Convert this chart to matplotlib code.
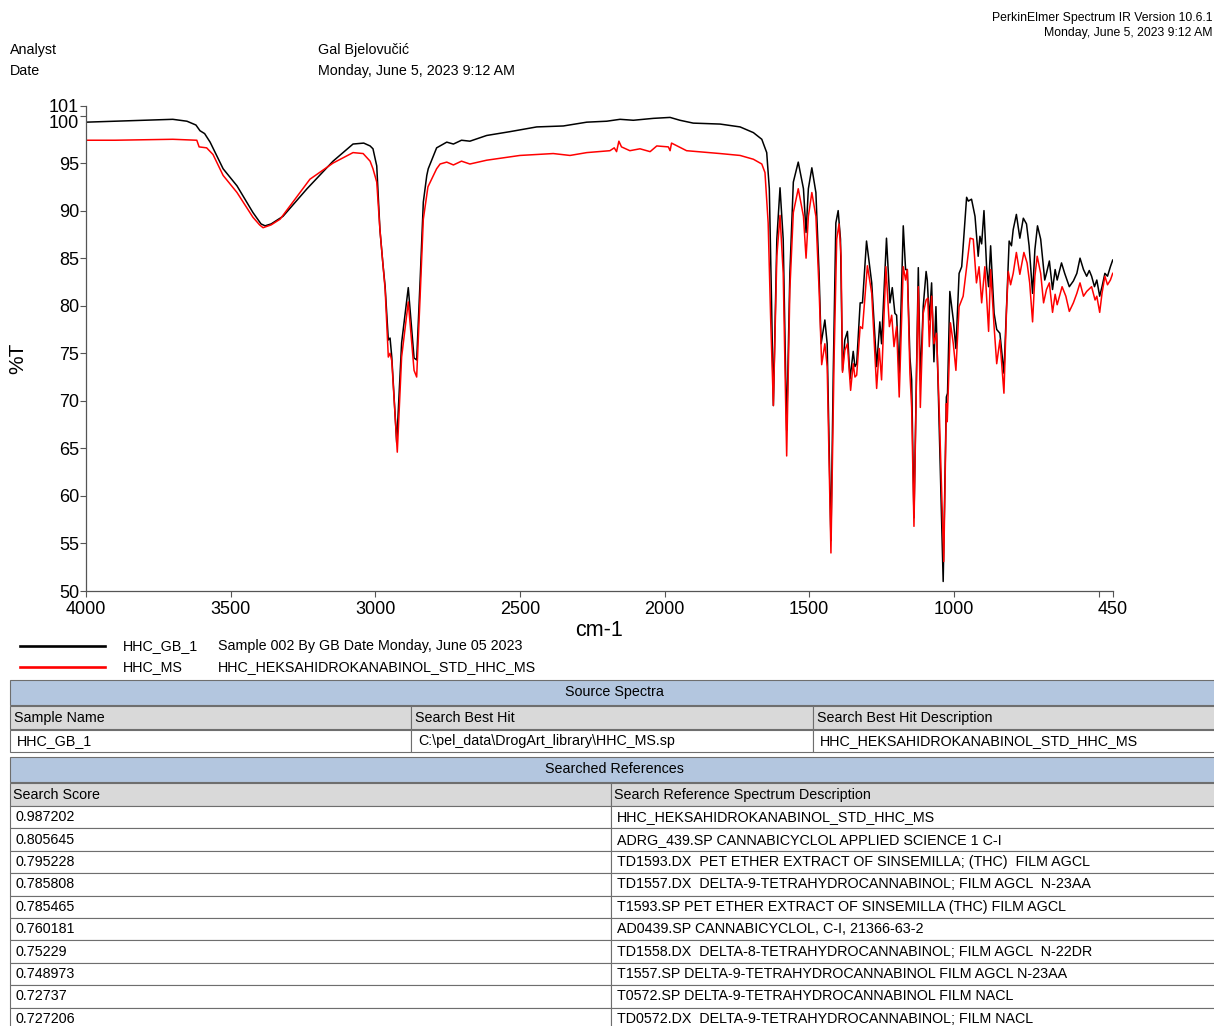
import matplotlib
matplotlib.use('Agg')
import matplotlib.pyplot as plt
import matplotlib.transforms as mtransforms
from matplotlib.patches import Rectangle

plt.rcParams['font.family'] = ['Liberation Sans', 'DejaVu Sans']

W, H = 1214, 1026

# sample spectrum HHC_GB_1 (wavenumber, %T)
wn_gb = [4000, 3900, 3800, 3700, 3651, 3620, 3606, 3590, 3571, 3526, 3478, 3423,
         3395, 3381, 3360, 3319, 3236, 3146, 3100, 3077, 3040, 3018, 3008, 2995,
         2984, 2974, 2966, 2955, 2949, 2943, 2926, 2909, 2886, 2874, 2866, 2857,
         2845, 2834, 2822, 2817, 2788, 2753, 2730, 2702, 2673, 2615, 2535, 2442,
         2350, 2269, 2200, 2154, 2108, 2039, 1981, 1947, 1901, 1808, 1739, 1693,
         1664, 1647, 1638, 1630, 1624, 1612, 1601, 1590, 1578, 1567, 1555, 1538,
         1520, 1511, 1503, 1491, 1477, 1466, 1459, 1446, 1438, 1425, 1417, 1408,
         1400, 1392, 1385, 1377, 1368, 1359, 1348, 1342, 1336, 1324, 1316, 1302,
         1284, 1267, 1256, 1250, 1233, 1221, 1213, 1204, 1198, 1189, 1175, 1167,
         1161, 1152, 1146, 1138, 1129, 1123, 1116, 1106, 1096, 1092, 1085, 1077,
         1069, 1062, 1054, 1037, 1026, 1022, 1014, 1002, 993, 982, 973, 956,
         950, 939, 927, 916, 910, 904, 896, 887, 880, 873, 861, 852,
         841, 827, 818, 809, 801, 795, 784, 772, 760, 749, 740, 728,
         720, 711, 700, 686, 680, 670, 659, 650, 643, 628, 617, 601,
         587, 575, 564, 552, 541, 532, 524, 514, 506, 496, 488, 478,
         469, 459, 451]
t_gb = [99.3, 99.4, 99.5, 99.6, 99.4, 99.0, 98.4, 98.1, 97.2, 94.4, 92.6, 89.8,
        88.6, 88.4, 88.6, 89.4, 92.3, 95.2, 96.4, 97.0, 97.1, 96.8, 96.5, 94.7,
        88.0, 84.5, 82.0, 76.4, 76.6, 74.6, 65.6, 76.1, 81.9, 77.5, 74.5, 74.3,
        82.7, 90.9, 93.7, 94.4, 96.6, 97.2, 97.0, 97.4, 97.3, 97.9, 98.3, 98.8,
        98.9, 99.3, 99.4, 99.6, 99.5, 99.7, 99.8, 99.5, 99.2, 99.1, 98.8, 98.2,
        97.5, 96.1, 92.3, 79.9, 69.5, 87.0, 92.4, 87.0, 66.9, 83.4, 93.0, 95.1,
        92.3, 87.7, 92.3, 94.5, 91.9, 83.4, 76.0, 78.5, 76.0, 55.3, 72.9, 88.7,
        90.0, 87.0, 73.2, 76.4, 77.3, 72.3, 75.2, 73.6, 73.9, 80.3, 80.3, 86.8,
        82.4, 73.6, 78.3, 76.0, 87.1, 80.3, 81.9, 79.2, 79.0, 72.9, 88.4, 83.8,
        83.8, 74.6, 72.2, 57.7, 73.6, 84.0, 72.2, 79.9, 83.6, 82.7, 78.5, 82.4,
        74.1, 79.9, 71.1, 51.0, 70.4, 70.8, 81.5, 78.5, 75.5, 83.4, 84.1, 91.4,
        91.0, 91.2, 89.4, 85.2, 87.3, 86.5, 90.0, 84.1, 82.0, 86.3, 79.2, 77.5,
        77.1, 72.9, 79.9, 86.8, 86.3, 88.0, 89.6, 87.1, 89.2, 88.6, 86.3, 81.3,
        85.9, 88.4, 87.0, 82.7, 83.4, 84.7, 81.7, 83.8, 82.7, 84.5, 83.4, 82.0,
        82.6, 83.4, 85.0, 83.8, 83.1, 83.7, 83.1, 82.0, 82.7, 81.0, 82.0, 83.4,
        83.1, 84.1, 84.8]

# library spectrum HHC_MS (wavenumber, %T)
wn_ms = [4000, 3900, 3800, 3700, 3617, 3609, 3583, 3561, 3526, 3478, 3423, 3400,
         3388, 3360, 3329, 3226, 3146, 3077, 3042, 3018, 3008, 2995, 2984, 2966,
         2955, 2949, 2943, 2924, 2909, 2886, 2874, 2866, 2857, 2845, 2834, 2818,
         2788, 2776, 2753, 2730, 2702, 2673, 2615, 2500, 2385, 2327, 2269, 2189,
         2174, 2166, 2158, 2149, 2120, 2085, 2050, 2027, 1987, 1981, 1976, 1924,
         1808, 1739, 1693, 1664, 1653, 1642, 1633, 1624, 1612, 1601, 1590, 1578,
         1567, 1555, 1538, 1520, 1511, 1503, 1491, 1477, 1466, 1457, 1446, 1438,
         1425, 1414, 1405, 1397, 1390, 1385, 1377, 1368, 1357, 1348, 1342, 1336,
         1324, 1316, 1299, 1284, 1267, 1258, 1250, 1235, 1223, 1215, 1207, 1198,
         1189, 1175, 1167, 1161, 1152, 1146, 1138, 1129, 1123, 1116, 1106, 1096,
         1090, 1085, 1077, 1069, 1060, 1051, 1035, 1026, 1023, 1012, 1002, 993,
         982, 968, 944, 933, 922, 913, 904, 893, 880, 873, 861, 852,
         841, 827, 818, 812, 804, 795, 784, 772, 758, 747, 738, 728,
         720, 712, 700, 690, 680, 670, 659, 650, 643, 626, 613, 601,
         587, 575, 564, 552, 541, 524, 512, 506, 496, 488, 478, 469,
         459, 451]
t_ms = [97.4, 97.4, 97.45, 97.5, 97.4, 96.7, 96.6, 95.9, 93.7, 91.9, 89.3, 88.5,
        88.2, 88.5, 89.1, 93.3, 95.0, 96.1, 96.0, 95.2, 94.4, 93.0, 88.0, 81.7,
        74.6, 75.0, 74.2, 64.6, 74.6, 80.4, 76.1, 73.2, 72.5, 81.0, 89.1, 92.5,
        94.4, 94.9, 95.1, 94.8, 95.2, 94.9, 95.3, 95.8, 96.0, 95.8, 96.1, 96.3,
        96.6, 96.2, 97.3, 96.7, 96.3, 96.5, 96.2, 96.8, 96.7, 96.3, 97.1, 96.3,
        96.0, 95.8, 95.4, 94.9, 94.0, 88.7, 78.2, 69.5, 85.2, 89.5, 83.4, 64.2,
        81.7, 89.8, 92.3, 89.4, 85.0, 89.4, 91.9, 89.4, 81.7, 73.8, 76.0, 73.6,
        54.0, 74.6, 87.0, 88.6, 85.2, 73.0, 75.3, 76.0, 71.1, 73.9, 72.5, 72.7,
        77.8, 77.6, 84.2, 81.3, 71.3, 75.5, 72.2, 84.1, 77.8, 79.0, 75.7, 77.8,
        70.4, 84.1, 82.7, 83.8, 72.9, 69.3, 56.8, 72.9, 82.0, 69.3, 79.2, 80.6,
        80.8, 75.7, 81.0, 76.0, 77.1, 69.3, 53.1, 69.7, 67.8, 78.2, 76.0, 73.2,
        79.9, 81.0, 87.1, 87.0, 82.4, 84.1, 80.3, 84.1, 77.3, 83.8, 77.8, 73.9,
        76.4, 70.8, 79.6, 83.6, 82.2, 83.4, 85.6, 83.3, 85.6, 84.5, 82.4, 78.3,
        83.1, 85.2, 83.4, 80.3, 81.7, 82.4, 79.3, 81.2, 80.1, 82.0, 81.0, 79.4,
        80.3, 81.3, 82.4, 81.0, 81.5, 82.0, 80.6, 81.0, 79.3, 81.3, 83.1, 82.2,
        82.7, 83.4]

x_ticks = [4000, 3500, 3000, 2500, 2000, 1500, 1000, 500, 450]
x_tick_labels = ['4000', '3500', '3000', '2500', '2000', '1500', '1000', '', '450']
y_ticks = [50, 55, 60, 65, 70, 75, 80, 85, 90, 95, 100, 101]

legend_names = ['HHC_GB_1', 'HHC_MS']
legend_desc = ['Sample 002 By GB Date Monday, June 05 2023',
               'HHC_HEKSAHIDROKANABINOL_STD_HHC_MS']

source_cols = ['Sample Name', 'Search Best Hit', 'Search Best Hit Description']
source_row = ['HHC_GB_1', 'C:\\pel_data\\DrogArt_library\\HHC_MS.sp',
              'HHC_HEKSAHIDROKANABINOL_STD_HHC_MS']

ref_cols = ['Search Score', 'Search Reference Spectrum Description']
ref_scores = ['0.987202', '0.805645', '0.795228', '0.785808', '0.785465',
              '0.760181', '0.75229', '0.748973', '0.72737', '0.727206']
ref_desc = ['HHC_HEKSAHIDROKANABINOL_STD_HHC_MS',
            'ADRG_439.SP CANNABICYCLOL APPLIED SCIENCE 1 C-I',
            'TD1593.DX  PET ETHER EXTRACT OF SINSEMILLA; (THC)  FILM AGCL',
            'TD1557.DX  DELTA-9-TETRAHYDROCANNABINOL; FILM AGCL  N-23AA',
            'T1593.SP PET ETHER EXTRACT OF SINSEMILLA (THC) FILM AGCL',
            'AD0439.SP CANNABICYCLOL, C-I, 21366-63-2',
            'TD1558.DX  DELTA-8-TETRAHYDROCANNABINOL; FILM AGCL  N-22DR',
            'T1557.SP DELTA-9-TETRAHYDROCANNABINOL FILM AGCL N-23AA',
            'T0572.SP DELTA-9-TETRAHYDROCANNABINOL FILM NACL',
            'TD0572.DX  DELTA-9-TETRAHYDROCANNABINOL; FILM NACL']

HEAD_BLUE = '#b3c6df'
HEAD_GRAY = '#d9d9d9'
EDGE = '#6e6e6e'
TXT = 10.3


def fx(x):
    return x / W


def fy(y):
    return 1 - y / H


def put(fig, x, y, s, **kw):
    kw.setdefault('fontsize', TXT)
    kw.setdefault('va', 'center')
    fig.text(fx(x), fy(y), s, **kw)


def cell(fig, x0, y0, x1, y1, color):
    fig.add_artist(Rectangle((fx(x0), fy(y1)), fx(x1) - fx(x0), fy(y0) - fy(y1),
                             transform=fig.transFigure, facecolor=color,
                             edgecolor=EDGE, linewidth=0.8))


fig = plt.figure(figsize=(W / 100, H / 100), dpi=100)

# header block
put(fig, 1212, 18, 'PerkinElmer Spectrum IR Version 10.6.1', fontsize=8.8, ha='right')
put(fig, 1212, 33, 'Monday, June 5, 2023 9:12 AM', fontsize=8.8, ha='right')
put(fig, 10, 50, 'Analyst')
put(fig, 10, 71, 'Date')
put(fig, 318, 50, 'Gal Bjelovučić')
put(fig, 318, 71, 'Monday, June 5, 2023 9:12 AM')

# spectrum
ax = fig.add_axes([fx(86), fy(591), fx(1113) - fx(86), fy(106) - fy(591)])
ax.plot(wn_gb, t_gb, color='black', lw=1.1)
ax.plot(wn_ms, t_ms, color='#ff0000', lw=1.1)
ax.set_xlim(4000, 450)
ax.set_ylim(50, 101)
ax.spines['top'].set_visible(False)
ax.spines['right'].set_visible(False)
for s in ('left', 'bottom'):
    ax.spines[s].set_color('#555555')
    ax.spines[s].set_linewidth(0.9)
ax.set_xticks(x_ticks)
ax.set_xticklabels(x_tick_labels)
ax.set_yticks(y_ticks)
ax.set_yticklabels([str(v) for v in y_ticks])
ax.tick_params(direction='out', length=4, width=0.8, color='#555555',
               labelsize=13)
ax.tick_params(axis='y', pad=1)
ax.tick_params(axis='x', pad=3)
# push the "100" label below its tick so it clears "101"
lbl100 = ax.get_yticklabels()[y_ticks.index(100)]
lbl100.set_transform(lbl100.get_transform() +
                     mtransforms.ScaledTranslation(0, -6 / 100, fig.dpi_scale_trans))
ax.set_xlabel('cm-1', fontsize=15.5, labelpad=2)
put(fig, 18, 358, '%T', fontsize=15, rotation=90, ha='center')

# legend rows
for i, (col, name, desc) in enumerate(zip(['black', '#ff0000'], legend_names, legend_desc)):
    yy = 646 + 21 * i
    fig.add_artist(plt.Line2D([fx(20), fx(105)], [fy(yy), fy(yy)], color=col,
                              lw=1.9, transform=fig.transFigure))
    put(fig, 123, yy, name)
    put(fig, 218, yy, desc)

# source spectra table
cell(fig, 10, 680, 1222, 705, HEAD_BLUE)
put(fig, 614, 692, 'Source Spectra', ha='center')
src_x = [10, 411, 813, 1222]
for j in range(3):
    cell(fig, src_x[j], 706, src_x[j + 1], 729, HEAD_GRAY)
    cell(fig, src_x[j], 730, src_x[j + 1], 752, 'white')
    put(fig, src_x[j] + 4, 718, source_cols[j])
    put(fig, src_x[j] + 7, 741, source_row[j])

# searched references table
cell(fig, 10, 757, 1222, 782, HEAD_BLUE)
put(fig, 614, 769, 'Searched References', ha='center')
ref_x = [10, 611, 1222]
for j in range(2):
    cell(fig, ref_x[j], 783, ref_x[j + 1], 806, HEAD_GRAY)
    put(fig, ref_x[j] + 3, 795, ref_cols[j])
row_h = 22.4
for i, (score, desc) in enumerate(zip(ref_scores, ref_desc)):
    top = 806 + row_h * i
    for j in range(2):
        cell(fig, ref_x[j], top, ref_x[j + 1], top + row_h, 'white')
    put(fig, 15, top + row_h / 2, score)
    put(fig, 617, top + row_h / 2, desc)

fig.savefig('out.png', dpi=100)
